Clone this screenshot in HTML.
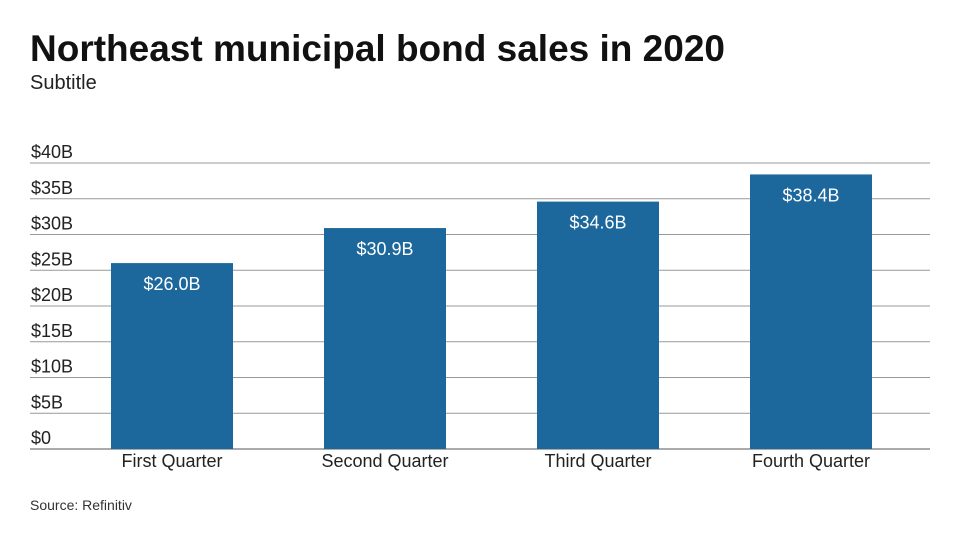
<!DOCTYPE html>
<html><head><meta charset="utf-8"><style>
body{margin:0;background:#fff;font-family:"Liberation Sans",sans-serif;}
#wrap{position:relative;width:960px;height:540px;overflow:hidden;}
</style></head><body>
<div id="wrap">
<svg id="chart" width="960" height="540">
<text x="30" y="61" font-size="37" font-weight="bold" fill="#111">Northeast municipal bond sales in 2020</text>
<text x="30" y="89" font-size="20" fill="#222">Subtitle</text>
<text x="30" y="510" font-size="14" fill="#333">Source: Refinitiv</text>
<g id="grid"></g><g id="bars"></g><g id="labels"></g>
</svg>
</div>
<script>
const categories=["First Quarter","Second Quarter","Third Quarter","Fourth Quarter"];
const values=[26.0,30.9,34.6,38.4];
const valueLabels=["$26.0B","$30.9B","$34.6B","$38.4B"];
const ticks=[0,5,10,15,20,25,30,35,40];
const tickLabels=["$0","$5B","$10B","$15B","$20B","$25B","$30B","$35B","$40B"];
const NS="http://www.w3.org/2000/svg";
const y0=449,yTop=163,vMax=40;
function y(v){return y0-(v/vMax)*(y0-yTop);}
const plotL=111,step=213,barW=122;
function x(i){return plotL+i*step;}
function mk(tag,attrs,parent){const e=document.createElementNS(NS,tag);for(const k in attrs)e.setAttribute(k,attrs[k]);parent.appendChild(e);return e;}
const grid=document.getElementById('grid'),bars=document.getElementById('bars'),labels=document.getElementById('labels');
ticks.forEach((t,i)=>{
 const l=mk('line',{x1:30,x2:930,y1:y(t),y2:y(t),stroke:i===0?'#555':'#999','stroke-width':1},grid);
 
 
 const tx=mk('text',{x:31,y:y(t)-5,'font-size':18,fill:'#222'},grid);
 tx.textContent=tickLabels[i];
 
 
});
values.forEach((v,i)=>{
 const r=mk('rect',{x:x(i),y:y(v),width:barW,height:y0-y(v),fill:'#1c679c'},bars);
 
 
 const vl=mk('text',{x:x(i)+barW/2,y:y(v)+27,'font-size':18,fill:'#fff','text-anchor':'middle'},labels);
 vl.textContent=valueLabels[i];
 
 
 const cl=mk('text',{x:x(i)+barW/2,y:y0+18,'font-size':18,fill:'#222','text-anchor':'middle'},labels);
 cl.textContent=categories[i];
 
 
});
</script>
</body></html>
